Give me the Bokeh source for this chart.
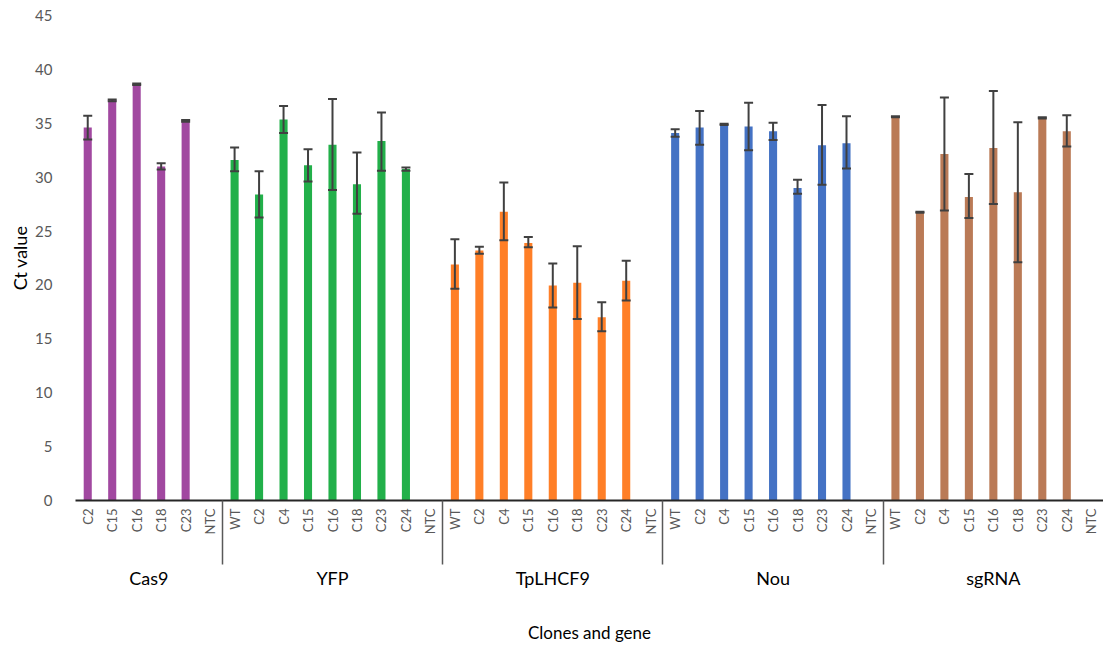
import math
from bokeh.plotting import figure
from bokeh.models import ColumnDataSource, FixedTicker, LinearAxis, Whisker, Range1d
from bokeh.embed import file_html
from bokeh.resources import INLINE

FONT = "Lato"

genes = ["Cas9", "YFP", "TpLHCF9", "Nou", "sgRNA"]
gene_colors = ["#A148A0", "#22B04A", "#FF7F27", "#4472C4", "#BA7A56"]

cas9_clones = ["C2", "C15", "C16", "C18", "C23", "NTC"]
other_clones = ["WT", "C2", "C4", "C15", "C16", "C18", "C23", "C24", "NTC"]

cas9_ct = [34.6, 37.15, 38.65, 31.0, 35.25, None]
cas9_lo = [33.5, 37.05, 38.55, 30.7, 35.15, None]
cas9_hi = [35.7, 37.2, 38.7, 31.3, 35.3, None]

yfp_ct = [31.6, 28.4, 35.35, 31.1, 33.0, 29.35, 33.35, 30.75, None]
yfp_lo = [30.55, 26.25, 34.1, 29.6, 28.8, 26.6, 30.6, 30.6, None]
yfp_hi = [32.75, 30.55, 36.6, 32.6, 37.25, 32.3, 36.0, 30.9, None]

lhcf9_ct = [21.9, 23.2, 26.8, 23.9, 19.95, 20.2, 17.0, 20.4, None]
lhcf9_lo = [19.65, 22.9, 24.15, 23.5, 17.9, 16.85, 15.7, 18.55, None]
lhcf9_hi = [24.25, 23.55, 29.5, 24.45, 22.0, 23.6, 18.4, 22.25, None]

nou_ct = [34.1, 34.6, 34.9, 34.7, 34.25, 29.0, 32.95, 33.15, None]
nou_lo = [33.75, 33.0, 34.85, 32.5, 33.45, 28.45, 29.3, 30.8, None]
nou_hi = [34.45, 36.15, 34.95, 36.9, 35.05, 29.75, 36.7, 35.65, None]

sgrna_ct = [35.6, 26.75, 32.15, 28.15, 32.7, 28.6, 35.5, 34.25, None]
sgrna_lo = [35.55, 26.7, 26.9, 26.2, 27.5, 22.1, 35.45, 32.85, None]
sgrna_hi = [35.65, 26.8, 37.4, 30.3, 38.0, 35.1, 35.55, 35.75, None]

y_ticks = [0, 5, 10, 15, 20, 25, 30, 35, 40, 45]

groups = [
    (cas9_clones, cas9_ct, cas9_lo, cas9_hi),
    (other_clones, yfp_ct, yfp_lo, yfp_hi),
    (other_clones, lhcf9_ct, lhcf9_lo, lhcf9_hi),
    (other_clones, nou_ct, nou_lo, nou_hi),
    (other_clones, sgrna_ct, sgrna_lo, sgrna_hi),
]

xs, tops, los, his, cols = [], [], [], [], []
labels = {}
centers, separators = [], []
idx = 0
for g, (cl, ct, lo, hi) in enumerate(groups):
    start = idx
    for j, name in enumerate(cl):
        labels[idx] = name
        if ct[j] is not None:
            xs.append(idx)
            tops.append(ct[j])
            los.append(lo[j])
            his.append(hi[j])
            cols.append(gene_colors[g])
        idx += 1
    centers.append((start + idx - 1) / 2)
    if g < len(groups) - 1:
        separators.append(idx - 0.5)
n_cat = idx

src = ColumnDataSource(dict(x=xs, top=tops, lo=los, hi=his, color=cols))

p = figure(width=1103, height=645, output_backend="svg", toolbar_location=None,
           x_range=Range1d(-0.5, n_cat - 0.5), y_range=Range1d(0, 45),
           min_border_left=75, min_border_right=0, min_border_top=15,
           min_border_bottom=140, x_axis_location=None)
p.outline_line_color = None
p.xgrid.visible = False
p.ygrid.visible = False
p.background_fill_color = "white"
p.border_fill_color = "white"

p.vbar(x="x", top="top", bottom=0, width=0.33, color="color", line_color=None, source=src)
w = Whisker(source=src, base="x", lower="lo", upper="hi", line_color="#404040",
            line_width=2, level="overlay")
for head in (w.upper_head, w.lower_head):
    head.size = 9
    head.line_color = "#404040"
    head.line_width = 2
p.add_layout(w)

# y axis
ya = p.yaxis[0]
ya.ticker = FixedTicker(ticks=y_ticks)
ya.axis_line_color = None
ya.major_tick_line_color = None
ya.minor_tick_line_color = None
ya.major_label_standoff = 17
ya.major_label_text_font = FONT
ya.major_label_text_font_size = "15px"
ya.major_label_text_color = "#595959"
ya.axis_label = "Ct value"
ya.axis_label_text_font = FONT
ya.axis_label_text_font_size = "18px"
ya.axis_label_text_font_style = "normal"
ya.axis_label_text_color = "black"
ya.axis_label_standoff = 1

# category axis
xa = LinearAxis(ticker=FixedTicker(ticks=list(range(n_cat)), minor_ticks=[]),
                major_label_overrides=labels, major_label_orientation=math.pi / 2)
xa.axis_line_color = "#262626"
xa.axis_line_width = 2
xa.major_tick_out = 0
xa.major_tick_in = 0
xa.major_tick_line_color = None
xa.minor_tick_line_color = None
xa.major_label_standoff = 8
xa.major_label_text_font = FONT
xa.major_label_text_font_size = "13px"
xa.major_label_text_color = "#595959"
p.add_layout(xa, "below")

# group axis (group names, separators, x title)
h1 = 37
ga = LinearAxis(ticker=FixedTicker(ticks=centers, minor_ticks=separators),
                major_label_overrides={c: genes[i] for i, c in enumerate(centers)})
ga.axis_line_color = None
ga.major_tick_line_color = None
ga.major_tick_out = 17
ga.major_tick_in = 0
ga.minor_tick_line_color = "#595959"
ga.minor_tick_line_width = 1.5
ga.minor_tick_in = h1
ga.minor_tick_out = 64 - h1
ga.major_label_standoff = 2
ga.major_label_text_font = FONT
ga.major_label_text_font_size = "18px"
ga.major_label_text_color = "black"
ga.axis_label = "Clones and gene"
ga.axis_label_text_font = FONT
ga.axis_label_text_font_size = "17px"
ga.axis_label_text_font_style = "normal"
ga.axis_label_text_color = "black"
ga.axis_label_standoff = 30
p.add_layout(ga, "below")

open("out.html", "w").write(file_html(p, INLINE))
